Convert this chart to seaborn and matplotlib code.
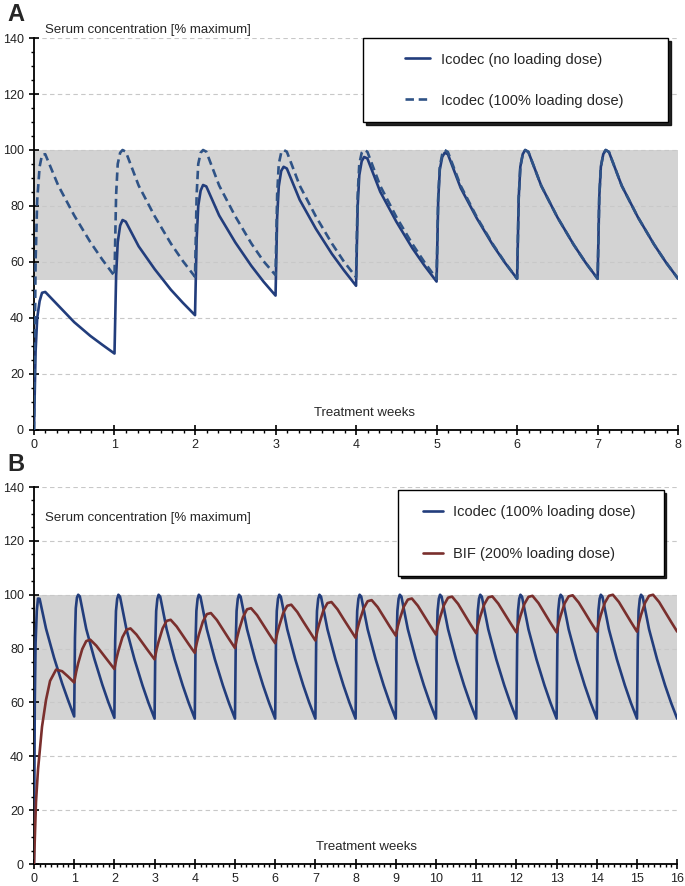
import matplotlib
matplotlib.use("Agg")
import matplotlib.pyplot as plt
import seaborn as sns
import numpy as np
import pandas as pd
from matplotlib.ticker import MultipleLocator
from matplotlib.legend_handler import HandlerLine2D

ICO_OFFSETS = [0, 0.02, 0.04, 0.07, 0.1, 0.14, 0.3, 0.5, 0.7, 0.85]
BIF_OFFSETS = [0, 0.05, 0.1, 0.2, 0.3, 0.4, 0.55, 0.7, 0.85]

# Panel A - Icodec, no loading dose (one row per week)
ico_no_load = [
    [0, 28, 40, 46, 49, 49.3, 44.5, 38.5, 33.6, 30.4],
    [27.3, 55, 67, 73, 75, 74.4, 65.6, 57.4, 50.1, 45.4],
    [41, 68, 80, 85.5, 87.5, 87, 76.6, 67, 58.6, 53],
    [48, 76, 87, 92.5, 94, 93.4, 82.2, 71.9, 62.9, 57],
    [51.5, 80, 91, 96, 97.5, 97, 85.1, 74.4, 64.9, 58.7],
    [53, 82, 93, 97.5, 99, 98.5, 86.4, 75.6, 66, 59.7],
    [54, 83, 94, 98.5, 100, 99.3, 87.2, 76, 66.3, 59.8],
    [54, 83, 94, 98.5, 100, 99.3, 87.2, 76, 66.3, 59.8],
]
ico_no_load_end = 54

# Panel A - Icodec, 100% loading dose
ico_load_a = [
    [0, 60, 82, 94, 98.3, 98.5, 87.4, 76.6, 67.1, 60.8],
    [55, 84, 95, 99, 100, 99.4, 87.3, 76.3, 66.6, 60.3],
    [54.7, 84, 95, 99, 100, 99.4, 87.3, 76.3, 66.6, 60.3],
    [55.3, 84, 95, 99, 100, 99.4, 87.3, 76.3, 66.6, 60.1],
    [54.6, 84, 95, 99, 100, 99.4, 87.2, 76.1, 66.4, 59.9],
    [54, 83, 94, 98.5, 100, 99.3, 87.2, 76, 66.3, 59.8],
    [54, 83, 94, 98.5, 100, 99.3, 87.2, 76, 66.3, 59.8],
    [54, 83, 94, 98.5, 100, 99.3, 87.2, 76, 66.3, 59.8],
]
ico_load_a_end = 54

# Panel B - Icodec, 100% loading dose
ico_load_b = [
    [0, 60, 82, 94, 98.6, 98.5, 87.4, 76.6, 67.1, 60.8],
    [54.8, 84, 95, 99, 100, 99.4, 87.3, 76.3, 66.6, 60.1],
    [54.3, 83, 94, 98.5, 100, 99.3, 87.2, 76, 66.3, 59.8],
    [54, 83, 94, 98.5, 100, 99.3, 87.2, 76, 66.3, 59.8],
    [54, 83, 94, 98.5, 100, 99.3, 87.2, 76, 66.3, 59.8],
    [54, 83, 94, 98.5, 100, 99.3, 87.2, 76, 66.3, 59.8],
    [54, 83, 94, 98.5, 100, 99.3, 87.2, 76, 66.3, 59.8],
    [54, 83, 94, 98.5, 100, 99.3, 87.2, 76, 66.3, 59.8],
    [54, 83, 94, 98.5, 100, 99.3, 87.2, 76, 66.3, 59.8],
    [54, 83, 94, 98.5, 100, 99.3, 87.2, 76, 66.3, 59.8],
    [54, 83, 94, 98.5, 100, 99.3, 87.2, 76, 66.3, 59.8],
    [54, 83, 94, 98.5, 100, 99.3, 87.2, 76, 66.3, 59.8],
    [54, 83, 94, 98.5, 100, 99.3, 87.2, 76, 66.3, 59.8],
    [54, 83, 94, 98.5, 100, 99.3, 87.2, 76, 66.3, 59.8],
    [54, 83, 94, 98.5, 100, 99.3, 87.2, 76, 66.3, 59.8],
    [54, 83, 94, 98.5, 100, 99.3, 87.2, 76, 66.3, 59.8],
]
ico_load_b_end = 54

# Panel B - BIF, 200% loading dose
bif_load = [
    [0, 23, 35, 51, 61, 68, 72.2, 71.6, 69.6],
    [67.4, 71.4, 74.6, 79.8, 82.8, 83.3, 81.1, 78.2, 75.3],
    [72.4, 76.2, 79.2, 84.2, 87.0, 87.5, 85.2, 82.1, 79.0],
    [76, 79.7, 82.6, 87.5, 90.3, 90.7, 88.2, 84.9, 81.6],
    [78.4, 82.1, 85.1, 90, 92.8, 93.2, 90.6, 87.1, 83.6],
    [80.2, 83.9, 86.9, 91.7, 94.6, 95, 92.4, 88.9, 85.4],
    [82, 85.6, 88.4, 93.2, 95.9, 96.3, 93.6, 90.0, 86.5],
    [83, 86.6, 89.4, 94.2, 96.9, 97.3, 94.6, 91.0, 87.5],
    [84, 87.5, 90.3, 94.9, 97.6, 98, 95.4, 91.8, 88.2],
    [84.8, 88.3, 91, 95.6, 98.2, 98.6, 95.9, 92.3, 88.7],
    [85.2, 88.7, 91.5, 96.2, 98.9, 99.3, 96.6, 92.9, 89.2],
    [85.7, 89.1, 91.9, 96.4, 99, 99.4, 96.7, 93.1, 89.5],
    [86, 89.4, 92.1, 96.6, 99.2, 99.6, 96.9, 93.2, 89.5],
    [86, 89.5, 92.2, 96.8, 99.4, 99.8, 97.1, 93.5, 89.8],
    [86.3, 89.7, 92.5, 97, 99.6, 100, 97.3, 93.6, 89.9],
    [86.3, 89.7, 92.5, 97, 99.6, 100, 97.3, 93.6, 89.9],
]
bif_load_end = 86.3

TARGET_LOW, TARGET_HIGH = 53.5, 100

NAVY = "#223d7c"
NAVY_DASH = "#2f5386"
BROWN = "#7a2f2d"


def week_series(rows, offsets, end_value):
    t, v = [], []
    for w, row in enumerate(rows):
        t += [w + o for o in offsets]
        v += row
    t.append(len(rows))
    v.append(end_value)
    return pd.DataFrame({"week": t, "conc": v})


class ShortLine(HandlerLine2D):
    """legend line drawn only in the right part of the handle box"""
    def __init__(self, start_frac, **kw):
        super().__init__(**kw)
        self.start_frac = start_frac

    def get_xdata(self, legend, xdescent, ydescent, width, height, fontsize):
        x0 = -xdescent + self.start_frac * width
        x1 = -xdescent + width
        return np.array([x0, x1]), np.array([(x0 + x1) / 2])


sns.set_style("ticks")
plt.rcParams["font.family"] = ["Liberation Sans", "DejaVu Sans"]

fig = plt.figure(figsize=(6.85, 8.86), dpi=100)
axA = fig.add_axes([0.0496, 0.5147, 0.9404, 0.4424])
axB = fig.add_axes([0.0496, 0.0248, 0.9390, 0.4255])


def style_axis(ax, xmax):
    ax.axhspan(TARGET_LOW, TARGET_HIGH, color="#d3d3d3", zorder=0.1, lw=0)
    ax.set_xlim(0, xmax)
    ax.set_ylim(0, 140)
    ax.set_axisbelow(True)
    ax.yaxis.grid(True, ls=(0, (4, 3)), color="#c8c8c8", lw=0.8)
    ax.xaxis.grid(False)
    for s in ["top", "right"]:
        ax.spines[s].set_visible(False)
    for s in ["left", "bottom"]:
        ax.spines[s].set_color("black")
        ax.spines[s].set_linewidth(1.3)
    ax.yaxis.set_major_locator(MultipleLocator(20))
    ax.yaxis.set_minor_locator(MultipleLocator(5))
    ax.xaxis.set_major_locator(MultipleLocator(1))
    ax.xaxis.set_minor_locator(MultipleLocator(1 / 7))
    ax.tick_params(which="both", bottom=True, left=True, top=False, right=False)
    ax.tick_params(which="major", direction="inout", length=6.5, width=1.2,
                   labelsize=9, colors="black", labelcolor="#222222")
    ax.tick_params(which="minor", direction="out", length=2.5, width=1.0,
                   colors="black")
    ax.tick_params(axis="x", which="major", pad=3)
    ax.tick_params(axis="y", which="major", pad=4)
    ax.set_xlabel("")
    ax.set_ylabel("")


def add_legend(ax, anchor, start_frac, handlelength, textpad, spacing):
    handles, labels = ax.get_legend_handles_labels()
    leg = ax.legend(handles, labels, loc="upper left",
                    bbox_to_anchor=anchor, mode="expand", borderaxespad=0,
                    frameon=True, fancybox=False,
                    shadow={"color": "black", "alpha": 0.85},
                    edgecolor="black", framealpha=1, fontsize=10.5,
                    labelspacing=spacing, borderpad=1.0,
                    handlelength=handlelength, handletextpad=textpad,
                    handler_map={h: ShortLine(start_frac) for h in handles})
    leg.get_frame().set_linewidth(1.0)
    return leg


# Panel A
dfA1 = week_series(ico_no_load, ICO_OFFSETS, ico_no_load_end)
dfA2 = week_series(ico_load_a, ICO_OFFSETS, ico_load_a_end)
sns.lineplot(data=dfA1, x="week", y="conc", ax=axA, color=NAVY, lw=1.9,
             estimator=None, sort=False, label="Icodec (no loading dose)", zorder=3)
sns.lineplot(data=dfA2, x="week", y="conc", ax=axA, color=NAVY_DASH, lw=1.9,
             linestyle=(0, (3.2, 1.8)), estimator=None, sort=False,
             label="Icodec (100% loading dose)", zorder=3)
style_axis(axA, 8)
axA.text(0.14, 143, "Serum concentration [% maximum]", fontsize=9.5,
         va="center", ha="left", clip_on=False)
axA.text(4.1, 6, "Treatment weeks", fontsize=9.5, va="center", ha="center")
add_legend(axA, (0.511, 1.0, 0.473, 0.0), 0.52, 3.6, 0.75, 1.85)

# Panel B
dfB1 = week_series(ico_load_b, ICO_OFFSETS, ico_load_b_end)
dfB2 = week_series(bif_load, BIF_OFFSETS, bif_load_end)
sns.lineplot(data=dfB1, x="week", y="conc", ax=axB, color=NAVY, lw=1.9,
             estimator=None, sort=False, label="Icodec (100% loading dose)", zorder=3)
sns.lineplot(data=dfB2, x="week", y="conc", ax=axB, color=BROWN, lw=1.9,
             estimator=None, sort=False, label="BIF (200% loading dose)", zorder=3)
style_axis(axB, 16)
axB.text(0.28, 128.5, "Serum concentration [% maximum]", fontsize=9.5,
         va="center", ha="left")
axB.text(8.26, 6.3, "Treatment weeks", fontsize=9.5, va="center", ha="center")
add_legend(axB, (0.566, 0.992, 0.413, 0.0), 0.35, 2.06, 0.7, 1.95)

fig.text(0.011, 0.997, "A", fontsize=17, fontweight="bold", va="top", ha="left")
fig.text(0.011, 0.489, "B", fontsize=17, fontweight="bold", va="top", ha="left")

fig.savefig("out.png", dpi=100)
